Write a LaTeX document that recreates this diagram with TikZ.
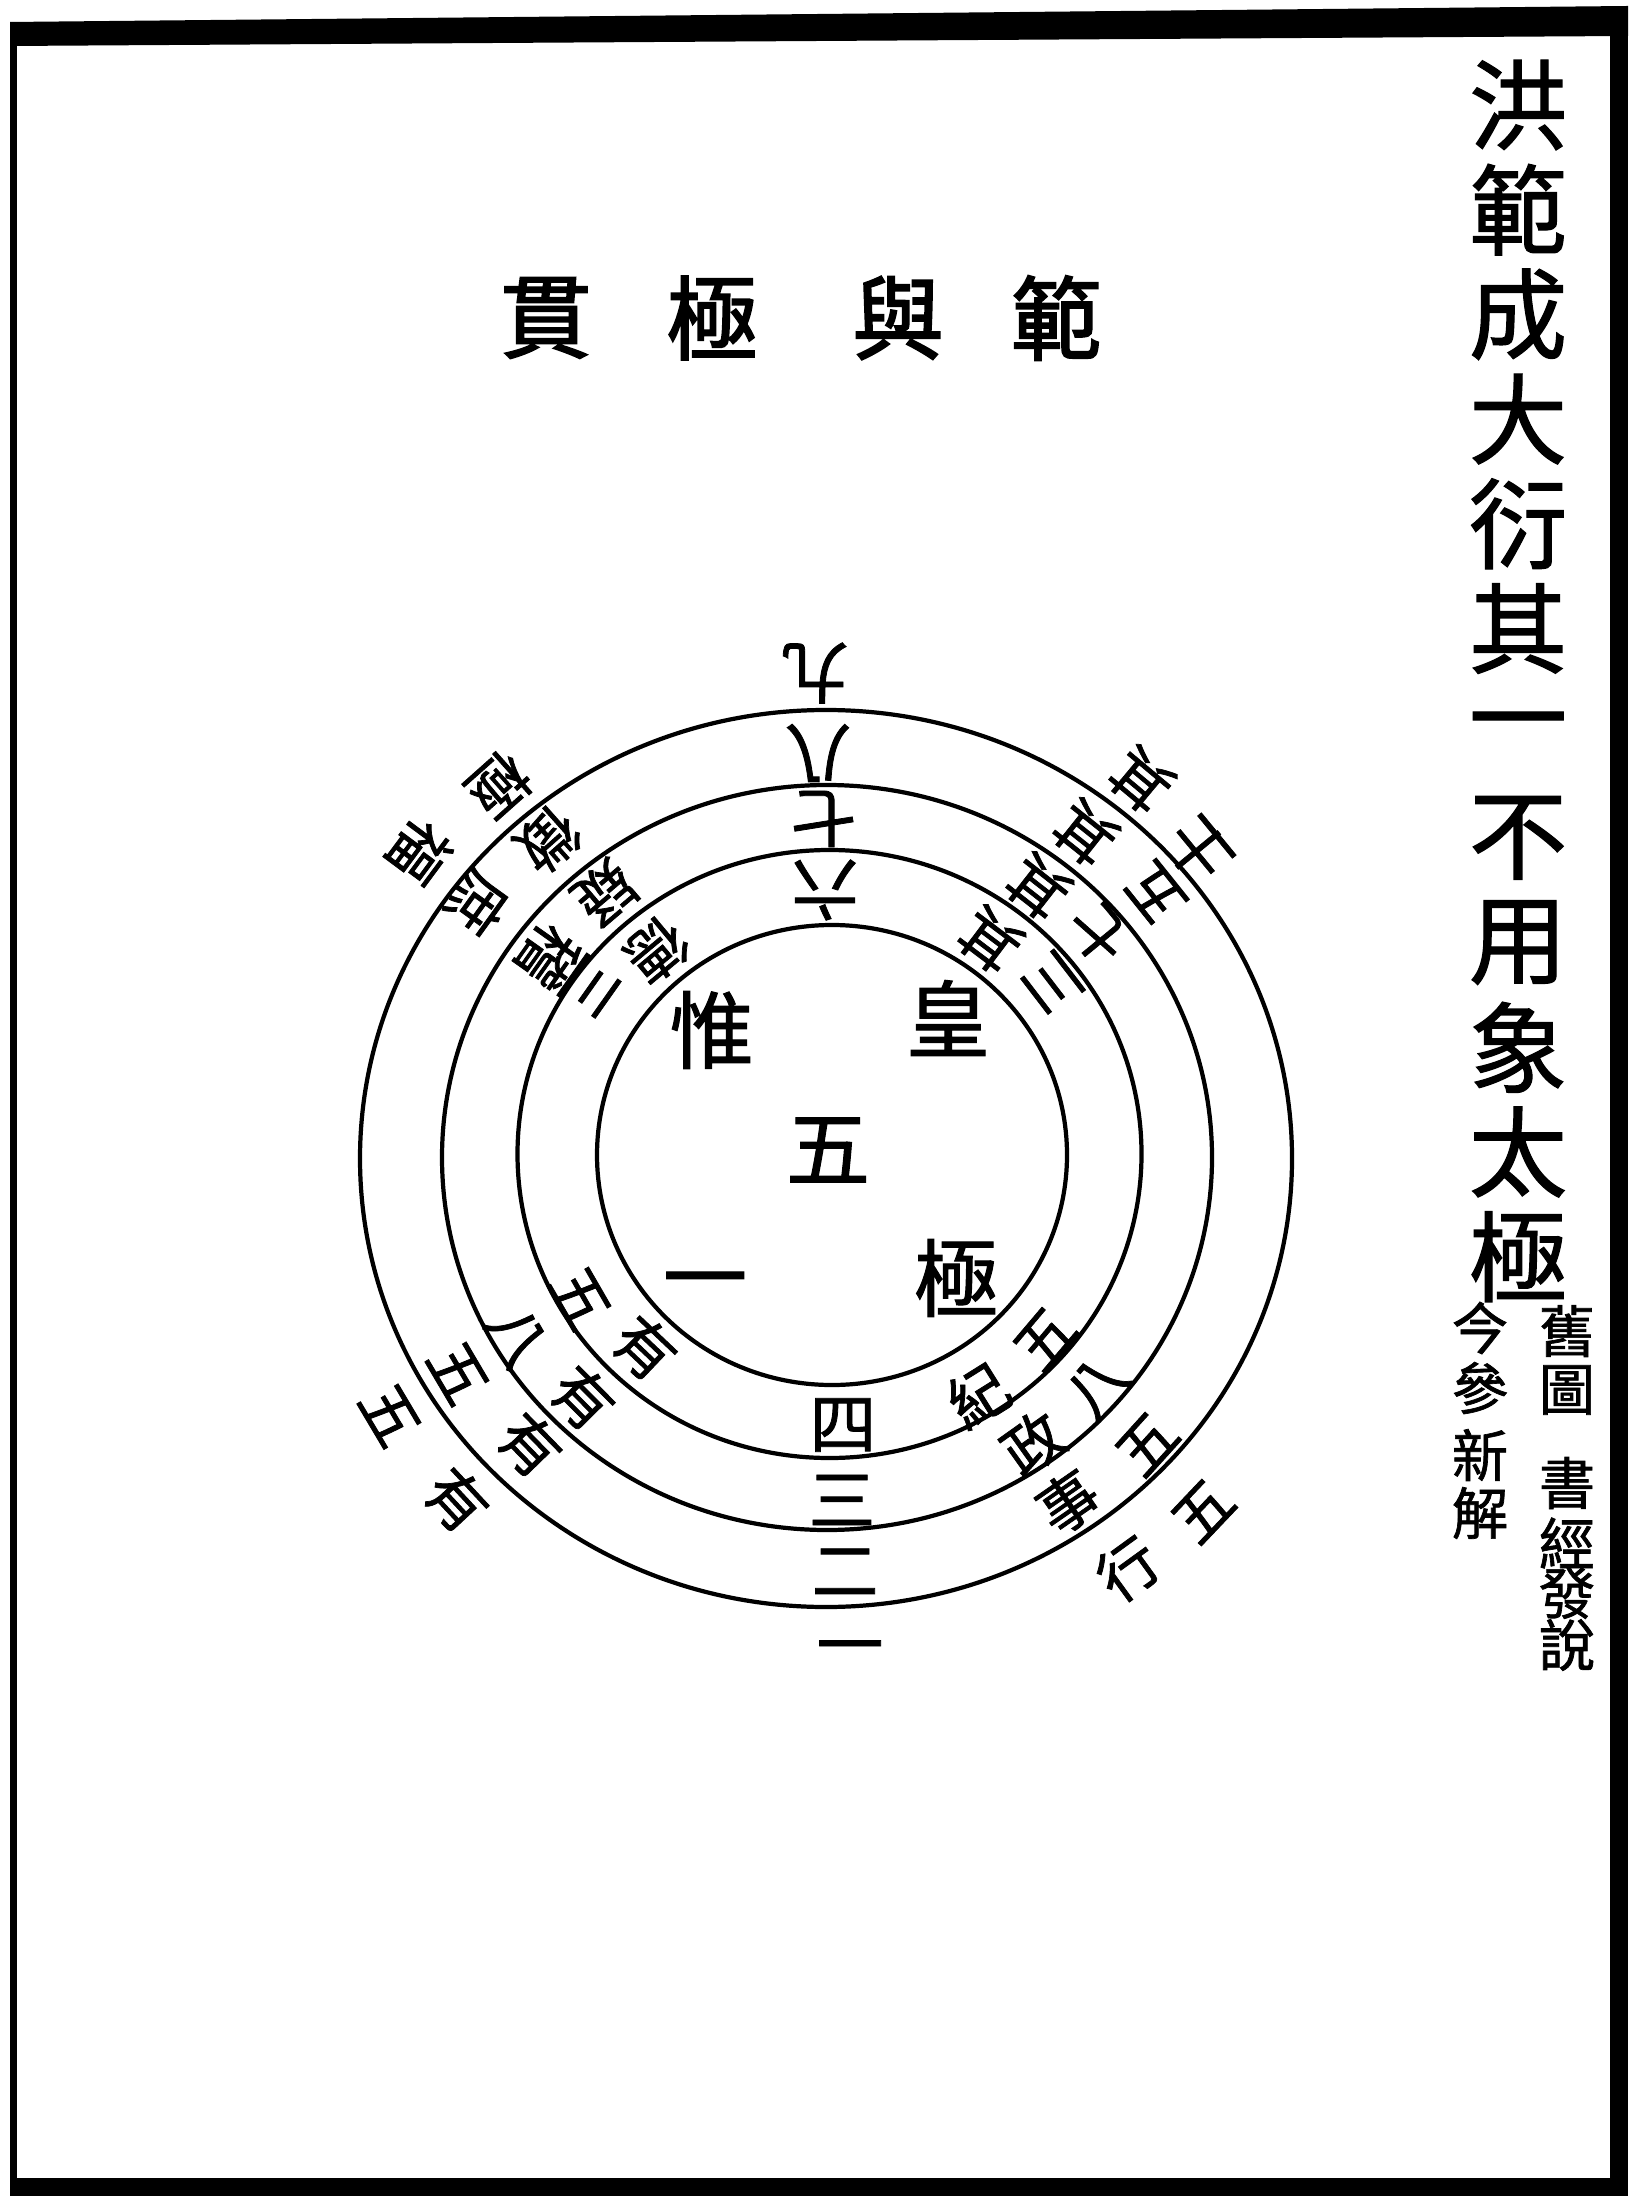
\documentclass[tikz,border=0pt]{standalone}
\usepackage{fontspec}
\newfontfamily\cjk{Noto Sans CJK TC}[FakeBold=1.2]
\newfontfamily\cjkh{Noto Sans CJK TC}[FakeBold=2]
\newcommand\rchar[4]{\pgfmathsetmacro\myrot{atan2(1155-(#3),(#2)-828)+90}\node[ring,rotate=\myrot] (#1) at (#2,#3) {#4};}
\begin{document}
\begin{tikzpicture}[x=0.1mm,y=-0.1mm,
  circ/.style={line width=1.2pt},
  ring/.style={inner sep=0pt,font=\cjk\fontsize{17}{17}\selectfont},
  axis/.style={inner sep=0pt,font=\cjk\fontsize{19}{19}\selectfont},
  ctr/.style={inner sep=0pt,font=\cjk\fontsize{24}{24}\selectfont},
  head/.style={inner sep=0pt,font=\cjkh\fontsize{26}{26}\selectfont},
  tcol/.style={inner sep=0pt,font=\cjk\fontsize{28}{28}\selectfont},
  small/.style={inner sep=0pt,font=\cjk\fontsize{16}{16}\selectfont}]
\useasboundingbox (0,0) rectangle (1628,2196);
% frame
\fill (10,22) -- (1628,6) -- (1628,36) -- (10,46) -- cycle;
\fill (10,22) rectangle (17,2196);
\fill (1610,6) rectangle (1628,2196);
\fill (10,2178) rectangle (1628,2196);
% heading
\node[head] (h1) at (546,318) {貫};
\node[head] (h2) at (712,318) {極};
\node[head] (h3) at (898,318) {與};
\node[head] (h4) at (1056,318) {範};
% title column
\foreach \c [count=\i from 0] in {洪,範,成,大,衍,其,一,不,用,象,太,極}
  \node[tcol] (t\i) at (1518,{105+\i*104.7}) {\c};
\foreach \c/\y [count=\i] in {舊/1331,圖/1390,書/1483,經/1543,發/1593,說/1645}
  \node[small] (r\i) at (1567,\y) {\c};
\foreach \c/\y [count=\i] in {今/1328,參/1388,新/1455,解/1513}
  \node[small] (l\i) at (1480,\y) {\c};
% circles
\draw[circ] (826,1158.5) ellipse [x radius=466, y radius=448.5];
\draw[circ] (827,1157.5) ellipse [x radius=385, y radius=372.5];
\draw[circ] (829.5,1154) ellipse [x radius=312, y radius=304];
\draw[circ] (832,1155) ellipse [x radius=235, y radius=230];
% centre
\node[ctr] (c1) at (712,1030) {惟};
\node[ctr] (c2) at (948,1018) {皇};
\node[ctr] (c3) at (828,1150) {五};
\node[ctr] (c4) at (956,1278) {極};
\node[ctr] (c5) at (705,1290) {一};
% axis
\node[axis,rotate=180] (a9) at (815,673) {九};
\node[axis,rotate=180] (a8) at (818,753) {八};
\node[axis,rotate=180] (a7) at (823,819) {七};
\node[axis,rotate=180] (a6) at (825,890) {六};
\node[axis] (a4) at (843,1425) {四};
\node[axis] (a3) at (842,1500) {三};
\node[axis] (a2) at (845,1572) {二};
\node[axis] (a1) at (850,1655) {一};
% upper right
\rchar{ur1}{990}{940}{其}\rchar{ur2}{1052}{983}{三}
\rchar{ur3}{1038}{887}{其}\rchar{ur4}{1098}{933}{七}
\rchar{ur5}{1085}{833}{其}\rchar{ur6}{1155}{893}{五}
\rchar{ur7}{1141}{780}{其}\rchar{ur8}{1198}{850}{十}\rchar{ur9}{1225}{829}{一}
% upper left
\rchar{ul1}{420}{852}{福}\rchar{ul2}{499}{785}{極}
\rchar{ul3}{478}{903}{庶}\rchar{ul4}{548}{840}{徵}
\rchar{ul5}{548}{957}{稽}\rchar{ul6}{605}{893}{疑}
\rchar{ul7}{590}{987}{三}\rchar{ul8}{657}{950}{德}
% lower right
\rchar{lr1}{1045}{1339}{五}\rchar{lr2}{978}{1395}{紀}
\rchar{lr3}{1097}{1387}{八}\rchar{lr4}{1033}{1443}{政}
\rchar{lr5}{1147}{1444}{五}\rchar{lr6}{1068}{1502}{事}
\rchar{lr7}{1203}{1511}{五}\rchar{lr8}{1128}{1569}{行}
% lower left
\rchar{ll1}{580}{1298}{五}\rchar{ll2}{645}{1348}{有}
\rchar{ll3}{517}{1337}{八}\rchar{ll4}{583}{1398}{有}
\rchar{ll5}{458}{1373}{五}\rchar{ll6}{530}{1445}{有}
\rchar{ll7}{390}{1415}{五}\rchar{ll8}{457}{1500}{有}
\end{tikzpicture}
\end{document}
